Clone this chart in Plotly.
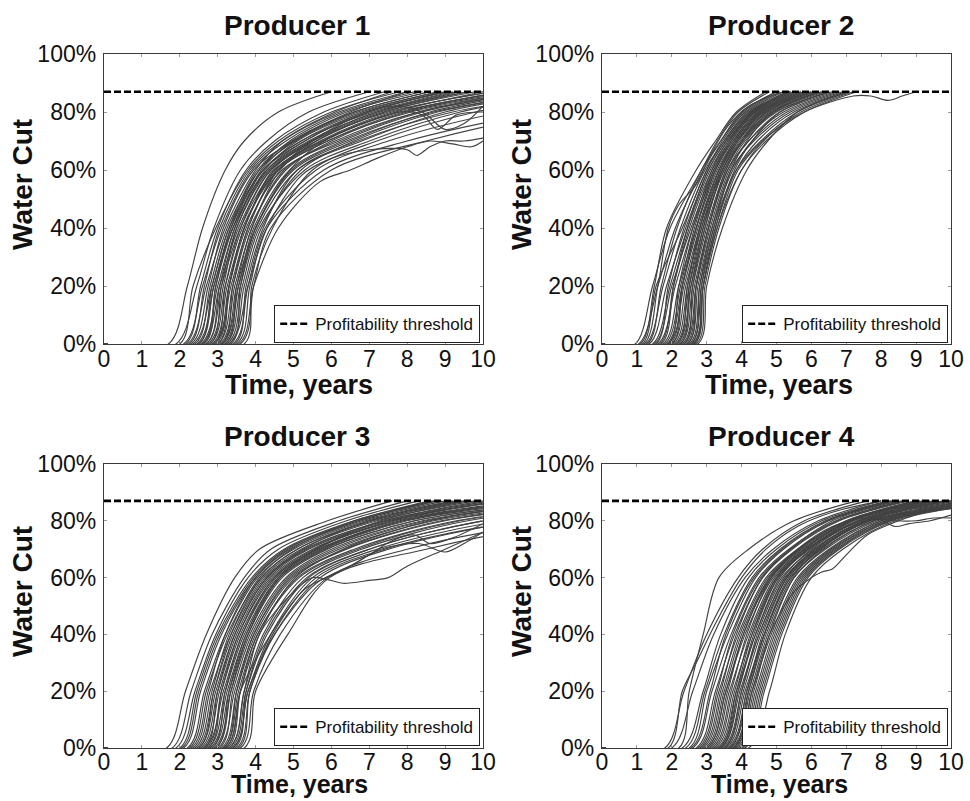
import plotly.graph_objects as go

# ---------------- data ----------------
TITLES = ["Producer 1", "Producer 2", "Producer 3", "Producer 4"]
X_TITLE = "Time, years"
Y_TITLE = "Water Cut"
THRESHOLD = 87          # profitability threshold, % water cut
TIME_TICKS = list(range(0, 11))
WC_TICKS = [0, 20, 40, 60, 80, 100]
WC_TICK_LABELS = ["0%", "20%", "40%", "60%", "80%", "100%"]

# water-cut levels (%) at which each realisation's crossing time was read
LEVELS = [0, 20, 40, 60, 70, 80, 87]

# crossing times (years) of each realisation at LEVELS
P1_TIMES = [
    [1.70, 2.20, 2.60, 3.20, 3.70, 4.60, 6.0],
    [1.90, 2.45, 2.90, 3.60, 4.30, 5.40, 7.0],
    [2.00, 2.35, 2.95, 3.80, 4.60, 6.00, 7.8],
    [2.10, 2.60, 3.10, 3.90, 4.80, 6.30, 8.2],
    [2.15, 2.55, 3.00, 3.75, 4.50, 5.80, 7.4],
    [2.20, 2.70, 3.20, 4.00, 4.70, 6.10, 7.6],
    [2.25, 2.65, 3.05, 3.85, 4.70, 6.20, 8.0],
    [2.30, 2.75, 3.15, 3.95, 5.00, 6.60, 8.6],
    [2.35, 2.85, 3.30, 4.20, 5.30, 6.90, 9.0],
    [2.40, 2.80, 3.25, 4.10, 4.90, 6.40, 8.4],
    [2.45, 2.90, 3.35, 4.20, 5.20, 7.10, 9.2],
    [2.50, 2.90, 3.40, 4.30, 5.40, 7.20, 9.3],
    [2.50, 2.85, 3.30, 4.05, 4.95, 6.60, 8.6],
    [2.55, 3.00, 3.45, 4.25, 5.10, 6.80, 8.8],
    [2.60, 3.05, 3.55, 4.40, 5.60, 7.40, 9.6],
    [2.60, 2.95, 3.35, 4.10, 5.05, 6.70, 8.9],
    [2.65, 2.95, 3.40, 4.15, 5.00, 6.50, 8.0],
    [2.70, 3.10, 3.60, 4.50, 5.70, 7.60, 10.2],
    [2.70, 3.05, 3.45, 4.20, 5.20, 6.90, 9.1],
    [2.75, 3.15, 3.50, 4.30, 5.30, 7.00, 9.0],
    [2.80, 3.20, 3.65, 4.60, 5.90, 7.90, 10.5],
    [2.80, 3.10, 3.50, 4.35, 5.45, 7.20, 9.6],
    [2.85, 3.25, 3.70, 4.45, 5.50, 7.30, 9.4],
    [2.90, 3.30, 3.75, 4.70, 6.20, 8.30, 11.0],
    [2.90, 3.20, 3.60, 4.40, 5.50, 7.50, 10.3],
    [2.95, 3.30, 3.70, 4.55, 5.80, 7.70, 10.0],
    [3.00, 3.40, 3.85, 4.80, 6.00, 8.00, 10.8],
    [3.00, 3.30, 3.70, 4.50, 5.75, 7.80, 10.6],
    [3.05, 3.45, 3.90, 4.65, 5.60, 7.40, 9.8],
    [3.10, 3.50, 4.00, 5.00, 6.50, 8.60, 11.5],
    [3.10, 3.40, 3.80, 4.60, 5.90, 8.10, 11.0],
    [3.15, 3.55, 3.95, 4.90, 6.30, 8.40, 11.2],
    [3.20, 3.60, 4.05, 5.10, 6.80, 9.00, 12.0],
    [3.20, 3.50, 3.90, 4.75, 6.10, 8.30, 11.4],
    [3.25, 3.65, 4.10, 5.30, 7.00, 9.40, 12.5],
    [3.30, 3.70, 4.15, 5.20, 6.60, 8.80, 11.8],
    [3.35, 3.60, 4.00, 4.95, 6.40, 8.70, 12.0],
    [3.40, 3.80, 4.25, 5.60, 7.50, 10.5, 14.0],
    [3.45, 3.75, 4.20, 5.10, 6.70, 9.20, 12.8],
    [3.50, 3.85, 4.30, 5.80, 8.00, 11.5, 15.0],
    [3.60, 3.95, 4.40, 6.00, 8.50, 12.0, 16.0],
    [3.70, 3.90, 4.45, 5.50, 7.20, 9.80, 13.0],
]
P1_EXTRA_T = [
    [0, 3.30, 3.80, 4.30, 5.20, 6.00, 7.00, 8.00, 8.25, 8.60, 9.00, 9.50, 10.0],
    [0, 3.10, 3.55, 4.00, 4.90, 5.80, 6.80, 7.80, 8.40, 8.80, 9.30, 10.0],
    [0, 2.90, 3.35, 3.80, 4.60, 5.50, 6.60, 7.60, 8.40, 9.00, 9.50, 10.0],
    [0, 3.55, 3.95, 4.60, 5.70, 6.50, 7.20, 8.00, 8.60, 9.20, 9.70, 10.0],
]
P1_EXTRA_WC = [
    [0, 0, 20, 40, 58, 64, 67, 67, 65, 68, 70, 70, 71],
    [0, 0, 20, 40, 60, 70, 76, 80, 79, 74, 79, 80],
    [0, 0, 20, 40, 60, 70, 78, 82, 80, 74, 76, 82],
    [0, 0, 20, 40, 56, 60, 64, 68, 70, 69, 68, 70],
]

P2_TIMES = [
    [0.95, 1.45, 1.95, 2.85, 3.30, 3.90, 4.8],
    [1.05, 1.60, 2.10, 2.90, 3.40, 4.00, 5.0],
    [1.10, 1.50, 1.85, 2.70, 3.25, 3.85, 4.7],
    [1.15, 1.55, 2.30, 3.00, 3.45, 4.10, 5.1],
    [1.25, 1.75, 2.25, 2.95, 3.50, 4.20, 5.3],
    [1.30, 1.70, 2.15, 2.85, 3.40, 4.05, 5.0],
    [1.35, 1.85, 2.40, 3.05, 3.55, 4.25, 5.4],
    [1.45, 1.95, 2.45, 3.10, 3.60, 4.30, 5.5],
    [1.50, 2.00, 2.55, 3.20, 3.70, 4.40, 5.6],
    [1.55, 1.90, 2.35, 3.00, 3.50, 4.15, 5.2],
    [1.60, 2.10, 2.60, 3.25, 3.75, 4.45, 5.7],
    [1.65, 2.05, 2.50, 3.15, 3.65, 4.35, 5.3],
    [1.70, 2.05, 2.45, 3.05, 3.55, 4.25, 5.4],
    [1.75, 2.20, 2.70, 3.30, 3.80, 4.50, 5.8],
    [1.80, 2.25, 2.65, 3.20, 3.65, 4.30, 5.4],
    [1.85, 2.30, 2.75, 3.35, 3.85, 4.60, 6.0],
    [1.90, 2.35, 2.80, 3.40, 3.90, 4.70, 6.1],
    [1.90, 2.20, 2.60, 3.15, 3.60, 4.35, 5.5],
    [1.95, 2.30, 2.70, 3.25, 3.70, 4.40, 5.6],
    [2.00, 2.40, 2.85, 3.45, 3.95, 4.75, 6.2],
    [2.00, 2.30, 2.70, 3.25, 3.75, 4.55, 5.9],
    [2.05, 2.45, 2.80, 3.35, 3.80, 4.50, 5.7],
    [2.10, 2.50, 2.90, 3.50, 4.00, 4.80, 6.3],
    [2.15, 2.55, 2.95, 3.45, 3.90, 4.60, 5.9],
    [2.15, 2.45, 2.80, 3.35, 3.85, 4.65, 6.1],
    [2.20, 2.55, 2.90, 3.40, 3.85, 4.55, 5.8],
    [2.25, 2.60, 3.00, 3.55, 4.05, 4.90, 6.4],
    [2.25, 2.50, 2.85, 3.45, 4.00, 4.85, 6.3],
    [2.30, 2.65, 3.05, 3.60, 4.10, 5.00, 6.5],
    [2.35, 2.70, 3.10, 3.65, 4.20, 5.10, 6.7],
    [2.35, 2.60, 2.95, 3.50, 4.05, 4.95, 6.6],
    [2.40, 2.70, 3.05, 3.55, 4.00, 4.70, 6.0],
    [2.45, 2.75, 3.15, 3.75, 4.30, 5.30, 6.9],
    [2.45, 2.70, 3.05, 3.60, 4.20, 5.20, 6.8],
    [2.50, 2.80, 3.20, 3.70, 4.15, 4.90, 6.2],
    [2.55, 2.85, 3.25, 3.85, 4.45, 5.50, 7.1],
    [2.55, 2.80, 3.15, 3.70, 4.35, 5.40, 7.0],
    [2.60, 2.90, 3.30, 3.90, 4.60, 5.70, 7.2],
    [2.65, 2.90, 3.25, 3.80, 4.30, 5.10, 6.5],
    [2.65, 2.85, 3.20, 3.85, 4.55, 5.60, 7.1],
    [2.70, 2.95, 3.35, 4.00, 4.70, 5.80, 7.3],
    [2.75, 3.00, 3.45, 4.15, 4.75, 5.60, 7.0],
]
P2_EXTRA_T = [
    [0, 2.60, 2.90, 3.30, 4.00, 4.80, 5.80, 7.20, 7.70, 8.20, 8.60, 9.00],
    [0, 1.20, 1.60, 1.90, 2.20, 2.70, 3.10, 3.60, 4.20, 5.20],
]
P2_EXTRA_WC = [
    [0, 0, 20, 40, 60, 72, 80, 85.5, 85.5, 84, 85.5, 87],
    [0, 0, 20, 40, 48, 55, 65, 75, 82, 87],
]

P3_TIMES = [
    [1.65, 2.15, 2.70, 3.45, 4.10, 5.90, 7.6],
    [1.80, 2.30, 2.85, 3.70, 4.40, 6.20, 8.0],
    [1.90, 2.40, 2.95, 3.80, 4.60, 6.40, 8.3],
    [2.00, 2.45, 3.00, 3.90, 4.75, 6.60, 8.7],
    [2.05, 2.50, 3.05, 3.95, 4.80, 6.70, 8.8],
    [2.10, 2.55, 3.10, 4.00, 4.90, 6.80, 9.0],
    [2.20, 2.65, 3.20, 4.05, 5.00, 6.90, 9.2],
    [2.25, 2.70, 3.25, 4.15, 5.10, 7.10, 9.5],
    [2.30, 2.75, 3.20, 4.00, 4.85, 6.60, 8.6],
    [2.35, 2.80, 3.35, 4.20, 5.20, 7.20, 9.8],
    [2.40, 2.85, 3.30, 4.10, 4.95, 6.70, 8.8],
    [2.45, 2.90, 3.40, 4.25, 5.25, 7.00, 9.4],
    [2.50, 2.95, 3.45, 4.30, 5.30, 7.40, 10.2],
    [2.50, 2.90, 3.35, 4.15, 5.10, 7.00, 9.3],
    [2.55, 3.00, 3.50, 4.35, 5.40, 7.50, 10.5],
    [2.60, 3.05, 3.55, 4.45, 5.55, 7.70, 11.0],
    [2.65, 3.15, 3.65, 4.55, 5.70, 7.80, 11.2],
    [2.65, 3.00, 3.45, 4.30, 5.35, 7.40, 10.0],
    [2.70, 3.10, 3.60, 4.50, 5.60, 7.30, 9.6],
    [2.75, 3.20, 3.70, 4.60, 5.75, 7.90, 11.5],
    [2.75, 3.10, 3.55, 4.40, 5.50, 7.60, 10.6],
    [2.80, 3.25, 3.75, 4.65, 5.80, 8.00, 11.8],
    [2.85, 3.30, 3.80, 4.70, 5.90, 8.20, 12.2],
    [2.85, 3.20, 3.65, 4.50, 5.65, 7.90, 11.3],
    [2.90, 3.35, 3.85, 4.80, 6.00, 8.40, 12.5],
    [2.95, 3.30, 3.75, 4.60, 5.60, 7.60, 10.4],
    [2.95, 3.35, 3.80, 4.65, 5.85, 8.20, 12.0],
    [3.00, 3.45, 3.95, 4.90, 6.20, 8.70, 13.0],
    [3.05, 3.40, 3.90, 4.85, 6.10, 8.50, 12.5],
    [3.10, 3.50, 4.00, 5.00, 6.40, 9.00, 13.5],
    [3.15, 3.55, 4.05, 5.10, 6.60, 9.30, 14.0],
    [3.15, 3.50, 3.95, 4.95, 6.35, 8.90, 13.2],
    [3.20, 3.60, 4.10, 5.05, 6.30, 8.60, 12.0],
    [3.25, 3.60, 4.05, 5.15, 6.70, 9.40, 14.0],
    [3.30, 3.70, 4.20, 5.25, 6.80, 9.60, 14.5],
    [3.35, 3.75, 4.30, 5.40, 7.00, 10.0, 15.0],
    [3.40, 3.80, 4.40, 5.50, 7.20, 10.5, 16.0],
    [3.45, 3.75, 4.25, 5.35, 7.00, 10.0, 15.0],
    [3.50, 3.85, 4.50, 5.70, 7.50, 11.0, 17.0],
    [3.55, 3.85, 4.45, 5.60, 7.40, 11.0, 16.5],
    [3.60, 3.95, 4.65, 5.90, 8.00, 12.0, 18.0],
    [3.70, 4.00, 4.85, 5.95, 8.50, 12.5, 19.0],
]
P3_EXTRA_T = [
    [0, 3.30, 3.70, 4.10, 5.00, 5.50, 6.00, 6.30, 7.00, 7.50, 8.00, 9.00, 10.0],
    [0, 3.40, 3.80, 4.50, 5.60, 6.50, 7.30, 8.30, 9.00, 9.50, 10.0],
    [0, 3.20, 3.60, 4.40, 5.30, 6.20, 7.00, 7.60, 8.20, 8.60, 9.20, 10.0],
]
P3_EXTRA_WC = [
    [0, 0, 20, 40, 55, 60, 59, 58, 59, 60, 64, 70, 76],
    [0, 0, 20, 40, 58, 64, 70, 72, 69, 72, 76],
    [0, 0, 20, 40, 56, 62, 68, 73, 75, 72, 74, 79],
]

P4_TIMES = [
    [2.20, 2.50, 2.90, 3.35, 4.20, 5.50, 7.3],
    [1.80, 2.35, 3.00, 3.90, 4.60, 5.80, 7.6],
    [2.00, 2.60, 3.20, 4.10, 4.90, 6.20, 8.0],
    [2.30, 2.90, 3.40, 4.20, 5.00, 6.30, 8.2],
    [2.40, 2.95, 3.50, 4.30, 5.10, 6.40, 8.3],
    [2.50, 3.00, 3.60, 4.40, 5.20, 6.50, 8.4],
    [2.55, 3.10, 3.55, 4.35, 5.15, 6.45, 8.3],
    [2.60, 3.15, 3.70, 4.50, 5.35, 6.70, 8.6],
    [2.70, 3.25, 3.80, 4.60, 5.45, 6.80, 8.8],
    [2.75, 3.30, 3.75, 4.55, 5.40, 6.75, 8.7],
    [2.80, 3.35, 3.90, 4.70, 5.60, 7.00, 9.0],
    [2.85, 3.40, 3.85, 4.60, 5.40, 6.60, 8.5],
    [2.90, 3.45, 3.95, 4.75, 5.65, 7.05, 9.1],
    [2.95, 3.50, 4.00, 4.80, 5.70, 7.10, 9.2],
    [3.00, 3.55, 4.10, 4.90, 5.80, 7.20, 9.4],
    [3.05, 3.60, 4.05, 4.85, 5.75, 7.15, 9.3],
    [3.10, 3.65, 4.20, 4.95, 5.85, 7.30, 9.5],
    [3.15, 3.70, 4.15, 4.85, 5.65, 7.00, 9.0],
    [3.20, 3.75, 4.30, 5.05, 5.95, 7.40, 9.8],
    [3.25, 3.80, 4.25, 5.00, 5.90, 7.35, 9.6],
    [3.30, 3.85, 4.40, 5.15, 6.05, 7.50, 10.0],
    [3.35, 3.90, 4.35, 5.05, 5.90, 7.20, 9.3],
    [3.35, 3.85, 4.30, 5.00, 5.80, 7.10, 9.1],
    [3.40, 3.95, 4.50, 5.25, 6.15, 7.60, 10.2],
    [3.45, 4.00, 4.45, 5.20, 6.00, 7.40, 9.6],
    [3.50, 4.05, 4.55, 5.30, 6.20, 7.70, 10.4],
    [3.50, 4.00, 4.50, 5.25, 6.10, 7.55, 9.9],
    [3.55, 4.10, 4.65, 5.40, 6.30, 7.80, 10.6],
    [3.60, 4.15, 4.60, 5.30, 6.10, 7.50, 9.8],
    [3.65, 4.20, 4.70, 5.45, 6.25, 7.60, 10.0],
    [3.65, 4.15, 4.65, 5.40, 6.25, 7.70, 12.5],
    [3.70, 4.25, 4.75, 5.50, 6.40, 7.90, 10.8],
    [3.75, 4.30, 4.85, 5.60, 6.50, 8.00, 11.0],
    [3.75, 4.20, 4.65, 5.35, 6.20, 7.65, 13.0],
    [3.80, 4.35, 4.80, 5.50, 6.35, 7.80, 10.5],
    [3.85, 4.40, 4.90, 5.65, 6.55, 8.00, 10.9],
    [3.90, 4.45, 4.95, 5.70, 6.60, 8.10, 11.2],
    [3.95, 4.50, 5.00, 5.75, 6.65, 8.15, 12.0],
    [4.00, 4.55, 5.05, 5.80, 6.70, 8.20, 11.4],
    [4.05, 4.60, 5.10, 5.85, 6.75, 8.25, 11.3],
    [4.10, 4.65, 5.15, 5.90, 6.80, 8.30, 11.0],
    [4.20, 4.80, 5.25, 6.00, 6.90, 8.40, 11.5],
]
P4_EXTRA_T = [
    [0, 3.80, 4.30, 4.80, 5.50, 6.00, 6.30, 6.60, 7.00, 7.60, 8.50, 10.0],
    [0, 1.90, 2.30, 2.70, 3.30, 4.00, 4.70, 5.60, 6.60, 8.00],
    [0, 3.00, 3.55, 4.05, 4.80, 5.60, 6.60, 7.60, 8.40, 9.00, 9.50, 10.0],
    [0, 3.40, 3.90, 4.40, 5.10, 5.90, 7.00, 7.80, 8.40, 8.80, 9.40, 10.0],
]
P4_EXTRA_WC = [
    [0, 0, 20, 40, 55, 60, 62, 63, 68, 75, 80, 86],
    [0, 0, 20, 30, 45, 60, 70, 78, 83, 87],
    [0, 0, 20, 40, 60, 70, 78, 81, 80, 80, 81, 81],
    [0, 0, 20, 40, 60, 70, 78, 81, 78, 79, 80, 82],
]

PANELS = [
    (P1_TIMES, P1_EXTRA_T, P1_EXTRA_WC),
    (P2_TIMES, P2_EXTRA_T, P2_EXTRA_WC),
    (P3_TIMES, P3_EXTRA_T, P3_EXTRA_WC),
    (P4_TIMES, P4_EXTRA_T, P4_EXTRA_WC),
]

# ---------------- layout geometry (pixels of a 970x801 page) ----------------
W, H = 970, 801
BOXES = [  # left, right, top, bottom
    (104, 483, 54, 344),
    (602, 951, 54, 344),
    (104, 483, 464, 748),
    (602, 951, 464, 748),
]
TITLE_POS = [(297, 26), (781, 26), (297, 436), (781, 436)]
# x-title: (centre x, y, vertical anchor, font size)
XTITLE_POS = [(299, 385, "middle", 27), (779, 385, "middle", 27),
              (299, 800, "bottom", 25), (779, 800, "bottom", 25)]
XTICK_STANDOFF = [-6, -6, -7, -7]
YTITLE_POS = [(22, 185), (521, 185), (22, 592), (521, 592)]
LEGEND_POS = [(274, 305), (742, 305), (274, 708), (742, 708)]

FONT = "Liberation Sans, Arial, Helvetica, sans-serif"
CURVE_COLOR = "#424242"
AXIS_COLOR = "#3a3a3a"
TEXT_COLOR = "#111111"

fig = go.Figure()
annotations = []
layout = dict(
    width=W, height=H,
    margin=dict(l=0, r=0, t=0, b=0, autoexpand=False),
    paper_bgcolor="white", plot_bgcolor="white",
    font=dict(family=FONT, color=TEXT_COLOR),
)

for i, (times, ext_t, ext_wc) in enumerate(PANELS):
    k = "" if i == 0 else str(i + 1)
    xref, yref = "x" + k, "y" + k
    xs, ys = [], []
    for tc in times:
        xs += [0] + tc + [None]
        ys += [0] + LEVELS + [None]
    for et, ew in zip(ext_t, ext_wc):
        xs += et + [None]
        ys += ew + [None]
    fig.add_trace(go.Scatter(
        x=xs, y=ys, mode="lines", xaxis=xref, yaxis=yref,
        line=dict(color=CURVE_COLOR, width=1.15, shape="spline", smoothing=0.9),
        showlegend=False, hoverinfo="skip", connectgaps=False,
    ))
    fig.add_trace(go.Scatter(
        x=[0, 10], y=[THRESHOLD, THRESHOLD], mode="lines",
        xaxis=xref, yaxis=yref,
        line=dict(color="black", width=2.6, dash="7px,3px"),
        name="Profitability threshold",
        legend="legend" + k, showlegend=True,
    ))

    l, r, t, b = BOXES[i]
    axis_common = dict(
        showline=True, linecolor=AXIS_COLOR, linewidth=1.4, mirror="ticks",
        ticks="inside", ticklen=3, tickcolor="#9a9a9a", tickwidth=1,
        showgrid=False, zeroline=False, fixedrange=True, automargin=False,
        tickfont=dict(size=23, family=FONT, color=TEXT_COLOR),
    )
    layout["xaxis" + k] = dict(
        axis_common, domain=[l / W, r / W], range=[0, 10],
        anchor=yref, tickvals=TIME_TICKS, ticklabelstandoff=XTICK_STANDOFF[i],
    )
    layout["yaxis" + k] = dict(
        axis_common, domain=[1 - b / H, 1 - t / H], range=[0, 100],
        anchor=xref, tickvals=WC_TICKS, ticktext=WC_TICK_LABELS,
        ticklabelstandoff=2,
    )
    lx, ly = LEGEND_POS[i]
    layout["legend" + k] = dict(
        x=lx / W, y=1 - ly / H, xanchor="left", yanchor="top",
        bgcolor="white", bordercolor="#222", borderwidth=1.2,
        font=dict(size=17, family=FONT, color=TEXT_COLOR),
        itemwidth=30, tracegroupgap=0,
    )
    tx, ty = TITLE_POS[i]
    annotations.append(dict(
        text="<b>" + TITLES[i] + "</b>", xref="paper", yref="paper",
        x=tx / W, y=1 - ty / H, xanchor="center", yanchor="middle",
        showarrow=False, font=dict(size=28, family=FONT, color=TEXT_COLOR),
    ))
    xx, xy, xanc, xsize = XTITLE_POS[i]
    annotations.append(dict(
        text="<b>" + X_TITLE + "</b>", xref="paper", yref="paper",
        x=xx / W, y=1 - xy / H, xanchor="center", yanchor=xanc,
        showarrow=False, font=dict(size=xsize, family=FONT, color=TEXT_COLOR),
    ))
    yx, yy = YTITLE_POS[i]
    annotations.append(dict(
        text="<b>" + Y_TITLE + "</b>", xref="paper", yref="paper",
        x=yx / W, y=1 - yy / H, xanchor="center", yanchor="middle",
        textangle=-90,
        showarrow=False, font=dict(size=28, family=FONT, color=TEXT_COLOR),
    ))

layout["annotations"] = annotations
fig.update_layout(**layout)
fig.write_html("out.html")
